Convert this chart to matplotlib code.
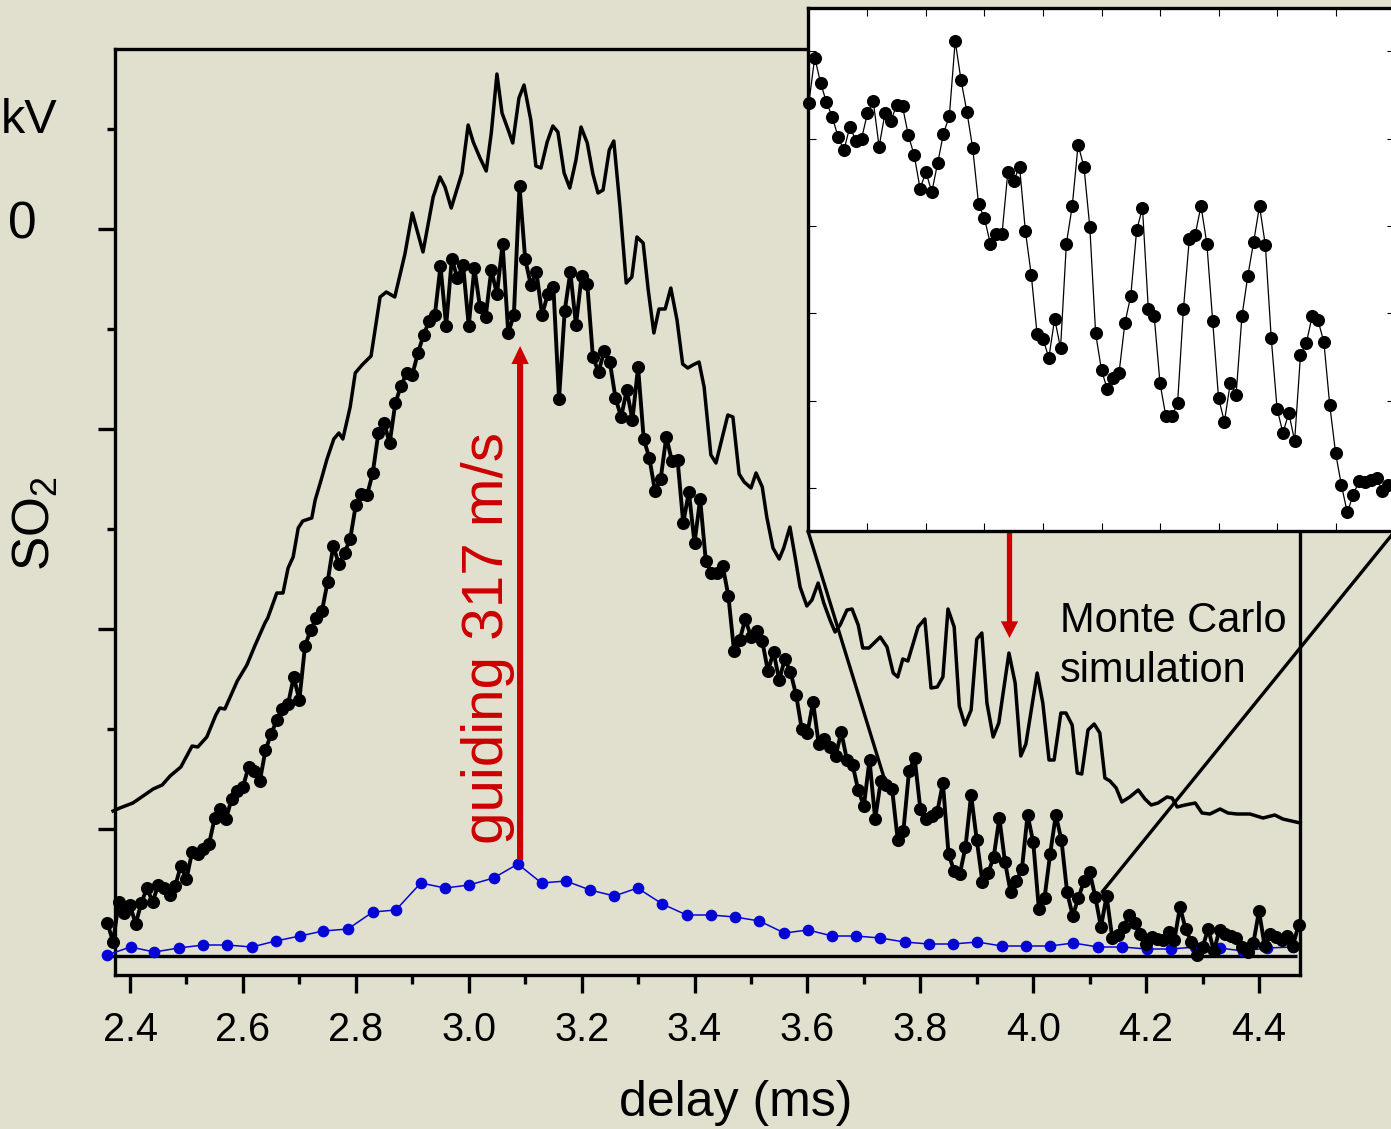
import matplotlib
matplotlib.use("Agg")
import matplotlib.pyplot as plt
from matplotlib.patches import ConnectionPatch

plt.rcParams['font.family'] = ['Liberation Sans', 'DejaVu Sans']
plt.rcParams['mathtext.default'] = 'regular'

# ---------------- data ----------------
# measured SO2 signal (black dots), delay in ms
delay_meas = [
    2.36, 2.37, 2.38, 2.39, 2.40, 2.41, 2.42, 2.43, 2.44, 2.45,
    2.46, 2.47, 2.48, 2.49, 2.50, 2.51, 2.52, 2.53, 2.54, 2.55,
    2.56, 2.57, 2.58, 2.59, 2.60, 2.61, 2.62, 2.63, 2.64, 2.65,
    2.66, 2.67, 2.68, 2.69, 2.70, 2.71, 2.72, 2.73, 2.74, 2.75,
    2.76, 2.77, 2.78, 2.79, 2.80, 2.81, 2.82, 2.83, 2.84, 2.85,
    2.86, 2.87, 2.88, 2.89, 2.90, 2.91, 2.92, 2.93, 2.94, 2.95,
    2.96, 2.97, 2.98, 2.99, 3.00, 3.01, 3.02, 3.03, 3.04, 3.05,
    3.06, 3.07, 3.08, 3.09, 3.10, 3.11, 3.12, 3.13, 3.14, 3.15,
    3.16, 3.17, 3.18, 3.19, 3.20, 3.21, 3.22, 3.23, 3.24, 3.25,
    3.26, 3.27, 3.28, 3.29, 3.30, 3.31, 3.32, 3.33, 3.34, 3.35,
    3.36, 3.37, 3.38, 3.39, 3.40, 3.41, 3.42, 3.43, 3.44, 3.45,
    3.46, 3.47, 3.48, 3.49, 3.50, 3.51, 3.52, 3.53, 3.54, 3.55,
    3.56, 3.57, 3.58, 3.59, 3.60, 3.61, 3.62, 3.63, 3.64, 3.65,
    3.66, 3.67, 3.68, 3.69, 3.70, 3.71, 3.72, 3.73, 3.74, 3.75,
    3.76, 3.77, 3.78, 3.79, 3.80, 3.81, 3.82, 3.83, 3.84, 3.85,
    3.86, 3.87, 3.88, 3.89, 3.90, 3.91, 3.92, 3.93, 3.94, 3.95,
    3.96, 3.97, 3.98, 3.99, 4.00, 4.01, 4.02, 4.03, 4.04, 4.05,
    4.06, 4.07, 4.08, 4.09, 4.10, 4.11, 4.12, 4.13, 4.14, 4.15,
    4.16, 4.17, 4.18, 4.19, 4.20, 4.21, 4.22, 4.23, 4.24, 4.25,
    4.26, 4.27, 4.28, 4.29, 4.30, 4.31, 4.32, 4.33, 4.34, 4.35,
    4.36, 4.37, 4.38, 4.39, 4.40, 4.41, 4.42, 4.43, 4.44, 4.45,
    4.46, 4.47,
]
signal_meas = [
    0.33, 0.14, 0.54, 0.43, 0.51, 0.32, 0.53, 0.68, 0.54, 0.71,
    0.68, 0.61, 0.70, 0.90, 0.77, 1.04, 1.02, 1.07, 1.12, 1.38,
    1.47, 1.37, 1.57, 1.65, 1.69, 1.89, 1.85, 1.75, 2.06, 2.22,
    2.36, 2.47, 2.52, 2.79, 2.56, 3.10, 3.26, 3.38, 3.45, 3.74,
    4.10, 3.92, 4.03, 4.17, 4.51, 4.62, 4.61, 4.83, 5.23, 5.33,
    5.13, 5.53, 5.70, 5.83, 5.81, 6.03, 6.21, 6.35, 6.41, 6.90,
    6.30, 6.97, 6.78, 6.91, 6.30, 6.88, 6.49, 6.39, 6.86, 6.62,
    7.12, 6.23, 6.41, 7.70, 6.97, 6.71, 6.84, 6.41, 6.62, 6.69,
    5.57, 6.45, 6.84, 6.31, 6.80, 6.72, 5.99, 5.84, 6.05, 5.94,
    5.58, 5.39, 5.66, 5.36, 5.89, 5.17, 4.98, 4.65, 4.77, 5.19,
    4.95, 4.96, 4.33, 4.64, 4.13, 4.57, 3.95, 3.83, 3.83, 3.90,
    3.60, 3.05, 3.16, 3.37, 3.19, 3.25, 3.15, 2.85, 3.04, 2.76,
    2.97, 2.84, 2.61, 2.27, 2.23, 2.54, 2.12, 2.17, 2.09, 2.00,
    2.24, 1.96, 1.91, 1.66, 1.50, 1.96, 1.37, 1.75, 1.71, 1.67,
    1.16, 1.25, 1.85, 1.98, 1.47, 1.37, 1.40, 1.44, 1.73, 1.02,
    0.85, 0.82, 1.09, 1.61, 1.16, 0.74, 0.83, 0.99, 1.38, 0.94,
    0.64, 0.75, 0.87, 1.41, 1.14, 0.47, 0.58, 1.02, 1.41, 1.16,
    0.64, 0.40, 0.58, 0.75, 0.84, 0.59, 0.29, 0.60, 0.18, 0.21,
    0.29, 0.41, 0.33, 0.22, 0.12, 0.19, 0.17, 0.16, 0.24, 0.16,
    0.49, 0.27, 0.14, 0.01, 0.09, 0.27, 0.05, 0.26, 0.22, 0.20,
    0.18, 0.09, 0.04, 0.13, 0.45, 0.10, 0.22, 0.19, 0.16, 0.20,
    0.10, 0.31,
]

# Monte Carlo simulation (solid line)
delay_mc = [
    2.370, 2.382, 2.405, 2.418, 2.441, 2.457, 2.471, 2.490, 2.510, 2.520,
    2.536, 2.552, 2.559, 2.568, 2.590, 2.607, 2.621, 2.639, 2.644, 2.660,
    2.671, 2.680, 2.689, 2.698, 2.706, 2.722, 2.728, 2.738, 2.749, 2.761,
    2.770, 2.777, 2.790, 2.799, 2.811, 2.827, 2.843, 2.854, 2.869, 2.887,
    2.900, 2.919, 2.937, 2.949, 2.958, 2.969, 2.988, 2.999, 3.008, 3.020,
    3.031, 3.040, 3.050, 3.059, 3.070, 3.078, 3.089, 3.098, 3.110, 3.119,
    3.128, 3.139, 3.149, 3.158, 3.169, 3.179, 3.190, 3.199, 3.210, 3.220,
    3.229, 3.238, 3.249, 3.257, 3.268, 3.279, 3.289, 3.298, 3.309, 3.318,
    3.328, 3.337, 3.348, 3.358, 3.369, 3.379, 3.388, 3.397, 3.408, 3.417,
    3.429, 3.438, 3.459, 3.468, 3.479, 3.488, 3.500, 3.509, 3.520, 3.528,
    3.539, 3.550, 3.558, 3.569, 3.580, 3.587, 3.599, 3.608, 3.619, 3.629,
    3.640, 3.649, 3.658, 3.670, 3.679, 3.690, 3.698, 3.709, 3.729, 3.741,
    3.752, 3.760, 3.769, 3.778, 3.796, 3.808, 3.819, 3.830, 3.840, 3.849,
    3.860, 3.869, 3.879, 3.890, 3.900, 3.909, 3.918, 3.929, 3.939, 3.957,
    3.968, 3.978, 3.987, 4.007, 4.017, 4.028, 4.037, 4.049, 4.058, 4.069,
    4.078, 4.086, 4.097, 4.108, 4.118, 4.127, 4.136, 4.147, 4.157, 4.171,
    4.186, 4.198, 4.209, 4.221, 4.237, 4.246, 4.255, 4.269, 4.287, 4.299,
    4.313, 4.331, 4.345, 4.361, 4.384, 4.407, 4.428, 4.442, 4.473,
]
signal_mc = [
    1.45, 1.48, 1.53, 1.58, 1.67, 1.71, 1.80, 1.89, 2.10, 2.09,
    2.19, 2.41, 2.48, 2.47, 2.75, 2.91, 3.10, 3.33, 3.38, 3.63,
    3.63, 3.88, 3.99, 4.28, 4.35, 4.38, 4.56, 4.75, 4.97, 5.17,
    5.23, 5.17, 5.49, 5.83, 5.91, 6.00, 6.59, 6.64, 6.59, 7.02,
    7.43, 7.04, 7.59, 7.79, 7.69, 7.48, 7.83, 8.31, 8.14, 7.98,
    7.85, 8.23, 8.82, 8.43, 8.26, 8.13, 8.58, 8.71, 8.36, 7.90,
    7.88, 8.14, 8.30, 8.24, 7.83, 7.68, 7.96, 8.29, 8.13, 7.82,
    7.63, 7.66, 8.06, 8.15, 7.49, 6.73, 6.79, 7.19, 7.13, 6.66,
    6.23, 6.47, 6.47, 6.68, 6.36, 5.92, 5.88, 5.91, 5.94, 5.69,
    5.01, 4.93, 5.41, 5.39, 4.82, 4.74, 4.68, 4.83, 4.69, 4.39,
    4.08, 3.97, 4.08, 4.29, 3.93, 3.69, 3.50, 3.56, 3.73, 3.53,
    3.36, 3.24, 3.31, 3.46, 3.47, 3.31, 3.08, 3.08, 3.19, 3.09,
    2.83, 2.79, 2.97, 2.95, 3.29, 3.37, 2.68, 2.69, 2.79, 3.47,
    3.29, 2.50, 2.31, 2.46, 3.17, 3.23, 2.53, 2.19, 2.33, 3.03,
    2.73, 2.00, 2.12, 2.83, 2.53, 1.96, 1.96, 2.43, 2.43, 2.31,
    1.83, 1.82, 2.26, 2.32, 2.23, 1.78, 1.75, 1.68, 1.54, 1.59,
    1.66, 1.57, 1.51, 1.53, 1.59, 1.58, 1.49, 1.51, 1.53, 1.43,
    1.42, 1.47, 1.43, 1.42, 1.42, 1.38, 1.41, 1.37, 1.33,
]

# blue series (no guiding)
delay_blue = [
    2.359, 2.401, 2.443, 2.486, 2.530, 2.572, 2.616, 2.658, 2.701, 2.742,
    2.786, 2.830, 2.871, 2.915, 2.958, 3.001, 3.044, 3.087, 3.129, 3.172,
    3.215, 3.258, 3.299, 3.343, 3.386, 3.429, 3.472, 3.515, 3.559, 3.601,
    3.644, 3.686, 3.729, 3.772, 3.815, 3.858, 3.901, 3.944, 3.987, 4.030,
    4.071, 4.115, 4.158, 4.201, 4.244, 4.287, 4.330, 4.372, 4.415, 4.461,
]
signal_blue = [
    0.01, 0.09, 0.04, 0.08, 0.11, 0.11, 0.09, 0.15, 0.20, 0.25,
    0.27, 0.44, 0.46, 0.73, 0.68, 0.71, 0.78, 0.92, 0.73, 0.75,
    0.66, 0.60, 0.68, 0.52, 0.41, 0.41, 0.39, 0.35, 0.23, 0.26,
    0.20, 0.20, 0.18, 0.14, 0.12, 0.12, 0.14, 0.10, 0.10, 0.10,
    0.13, 0.09, 0.09, 0.07, 0.07, 0.09, 0.08, 0.05, 0.08, 0.09,
]

# inset: Monte Carlo simulation, fine time steps
delay_inset = [
    3.900, 3.902, 3.904, 3.906, 3.908, 3.910, 3.912, 3.914, 3.916, 3.918,
    3.920, 3.922, 3.924, 3.926, 3.928, 3.930, 3.932, 3.934, 3.936, 3.938,
    3.940, 3.942, 3.944, 3.946, 3.948, 3.950, 3.952, 3.954, 3.956, 3.958,
    3.960, 3.962, 3.964, 3.966, 3.968, 3.970, 3.972, 3.974, 3.976, 3.978,
    3.980, 3.982, 3.984, 3.986, 3.988, 3.990, 3.992, 3.994, 3.996, 3.998,
    4.000, 4.002, 4.004, 4.006, 4.008, 4.010, 4.012, 4.014, 4.016, 4.018,
    4.020, 4.022, 4.024, 4.026, 4.028, 4.030, 4.032, 4.034, 4.036, 4.038,
    4.040, 4.042, 4.044, 4.046, 4.048, 4.050, 4.052, 4.054, 4.056, 4.058,
    4.060, 4.062, 4.064, 4.066, 4.068, 4.070, 4.072, 4.074, 4.076, 4.078,
    4.080, 4.082, 4.084, 4.086, 4.088, 4.090, 4.092, 4.094, 4.096, 4.098,
]
signal_inset = [
    5.41, 5.93, 5.64, 5.42, 5.25, 5.02, 4.87, 5.14, 4.98, 5.00,
    5.29, 5.43, 4.91, 5.29, 5.20, 5.39, 5.37, 5.04, 4.81, 4.43,
    4.62, 4.39, 4.72, 5.06, 5.26, 6.12, 5.67, 5.31, 4.89, 4.25,
    4.09, 3.80, 3.91, 3.91, 4.62, 4.52, 4.68, 3.94, 3.44, 2.76,
    2.71, 2.49, 2.94, 2.60, 3.80, 4.23, 4.93, 4.68, 3.99, 2.77,
    2.35, 2.13, 2.26, 2.32, 2.89, 3.20, 3.95, 4.21, 3.05, 2.97,
    2.20, 1.82, 1.82, 1.97, 3.05, 3.85, 3.90, 4.23, 3.80, 2.91,
    2.03, 1.76, 2.20, 2.07, 2.97, 3.43, 3.82, 4.23, 3.78, 2.72,
    1.91, 1.63, 1.86, 1.54, 2.52, 2.66, 2.97, 2.92, 2.67, 1.95,
    1.40, 1.03, 0.72, 0.92, 1.08, 1.07, 1.09, 1.11, 0.97, 1.03,
]

x_major = [2.4, 2.6, 2.8, 3.0, 3.2, 3.4, 3.6, 3.8, 4.0, 4.2, 4.4]
x_major_labels = ['2.4', '2.6', '2.8', '3.0', '3.2', '3.4', '3.6', '3.8', '4.0', '4.2', '4.4']
x_minor = [2.5, 2.7, 2.9, 3.1, 3.3, 3.5, 3.7, 3.9, 4.1, 4.3]
y_major = [1.27, 3.27, 5.27, 7.27]
y_minor = [2.27, 4.27, 6.27, 8.27]
inset_x_ticks = [3.92, 3.94, 3.96, 3.98, 4.00, 4.02, 4.04, 4.06, 4.08, 4.10]
inset_y_ticks = [1, 2, 3, 4, 5, 6]

BG = '#E1E0CF'
RED = '#CC0000'
BLUE = '#0505D5'
W, H = 1391, 1129

fig = plt.figure(figsize=(W / 100, H / 100), dpi=100, facecolor=BG)

# ---------------- main axes ----------------
ax = fig.add_axes([115 / W, 1 - 975 / H, (1300 - 115) / W, (975 - 49) / H])
ax.set_facecolor('none')
ax.set_xlim(2.3734, 4.4726)
ax.set_ylim(-0.19, 9.07)

for s in ax.spines.values():
    s.set_linewidth(2.4)

ax.set_xticks(x_major)
ax.set_xticklabels(x_major_labels)
ax.set_xticks(x_minor, minor=True)
ax.set_yticks(y_major)
ax.set_yticks(y_minor, minor=True)
ax.set_yticklabels([])
ax.tick_params(axis='x', which='major', direction='out', length=13, width=2.4,
               labelsize=28.5, pad=13)
ax.tick_params(axis='x', which='minor', direction='out', length=6.5, width=2.4)
ax.tick_params(axis='y', which='major', direction='out', length=12.5, width=2.4,
               labelleft=False)
ax.tick_params(axis='y', which='minor', direction='out', length=6, width=2.4)

# zero baseline
ax.hlines(0, 2.352, 4.468, colors='k', lw=2.4, clip_on=False, zorder=2)

# blue series
ax.plot(delay_blue, signal_blue, '-o', color=BLUE, lw=1.1, ms=7.4,
        clip_on=False, zorder=3)
# Monte Carlo line
ax.plot(delay_mc, signal_mc, '-', color='k', lw=2.5, clip_on=False, zorder=4)
# measured signal
ax.plot(delay_meas, signal_meas, '-o', color='k', lw=2.8, ms=8.4,
        clip_on=False, zorder=5)

# red arrows
ax.annotate('', xy=(3.091, 6.10), xytext=(3.091, 0.96),
            arrowprops=dict(arrowstyle='simple,head_length=13,head_width=12.5,tail_width=4.4',
                            mutation_scale=1, color=RED, lw=0, shrinkA=0, shrinkB=0),
            zorder=6)
ax.annotate('', xy=(3.958, 3.18), xytext=(3.958, 4.27),
            arrowprops=dict(arrowstyle='simple,head_length=12,head_width=12.5,tail_width=3.8',
                            mutation_scale=1, color=RED, lw=0, shrinkA=0, shrinkB=0),
            annotation_clip=False, zorder=6)

# ---------------- texts ----------------
fig.text(736 / W, 1 - 1116 / H, 'delay (ms)', ha='center', va='baseline', fontsize=36)
fig.text(22 / W, 1 - 238 / H, '0', ha='center', va='baseline', fontsize=37)
fig.text(1 / W, 1 - 133 / H, 'kV', ha='left', va='baseline', fontsize=35)
fig.text(36 / W, 1 - 524 / H, 'SO$_2$', rotation=90, ha='center', va='center', fontsize=37)
fig.text(488 / W, 1 - 638 / H, 'guiding 317 m/s', rotation=90, ha='center', va='center',
         fontsize=42, color=RED)
fig.text(1060 / W, 1 - 632 / H, 'Monte Carlo', ha='left', va='baseline', fontsize=30)
fig.text(1060 / W, 1 - 682 / H, 'simulation', ha='left', va='baseline', fontsize=30)

# ---------------- inset ----------------
axin = fig.add_axes([808 / W, 1 - 531 / H, (1395 - 808) / W, (531 - 8) / H])
axin.set_facecolor('white')
axin.set_xlim(3.8997, 4.1003)
axin.set_ylim(0.5075, 6.498)
for s in axin.spines.values():
    s.set_linewidth(2.4)
axin.set_xticks(inset_x_ticks)
axin.set_yticks(inset_y_ticks)
axin.tick_params(which='both', direction='in', length=5.5, width=0.8,
                 top=True, right=True, labelbottom=False, labelleft=False)
axin.plot(delay_inset, signal_inset, '-o', color='k', lw=0.9, ms=8.4, clip_on=False)

# connector lines from inset corners to zoomed region
con1 = ConnectionPatch(xyA=(0, 0), coordsA=axin.transAxes,
                       xyB=(3.7375, 1.75), coordsB=ax.transData, color='k', lw=2.4)
con2 = ConnectionPatch(xyA=(1, 0), coordsA=axin.transAxes,
                       xyB=(4.122, 0.64), coordsB=ax.transData, color='k', lw=2.4)
fig.add_artist(con1)
fig.add_artist(con2)

fig.savefig('out.png', dpi=100, facecolor=BG)
